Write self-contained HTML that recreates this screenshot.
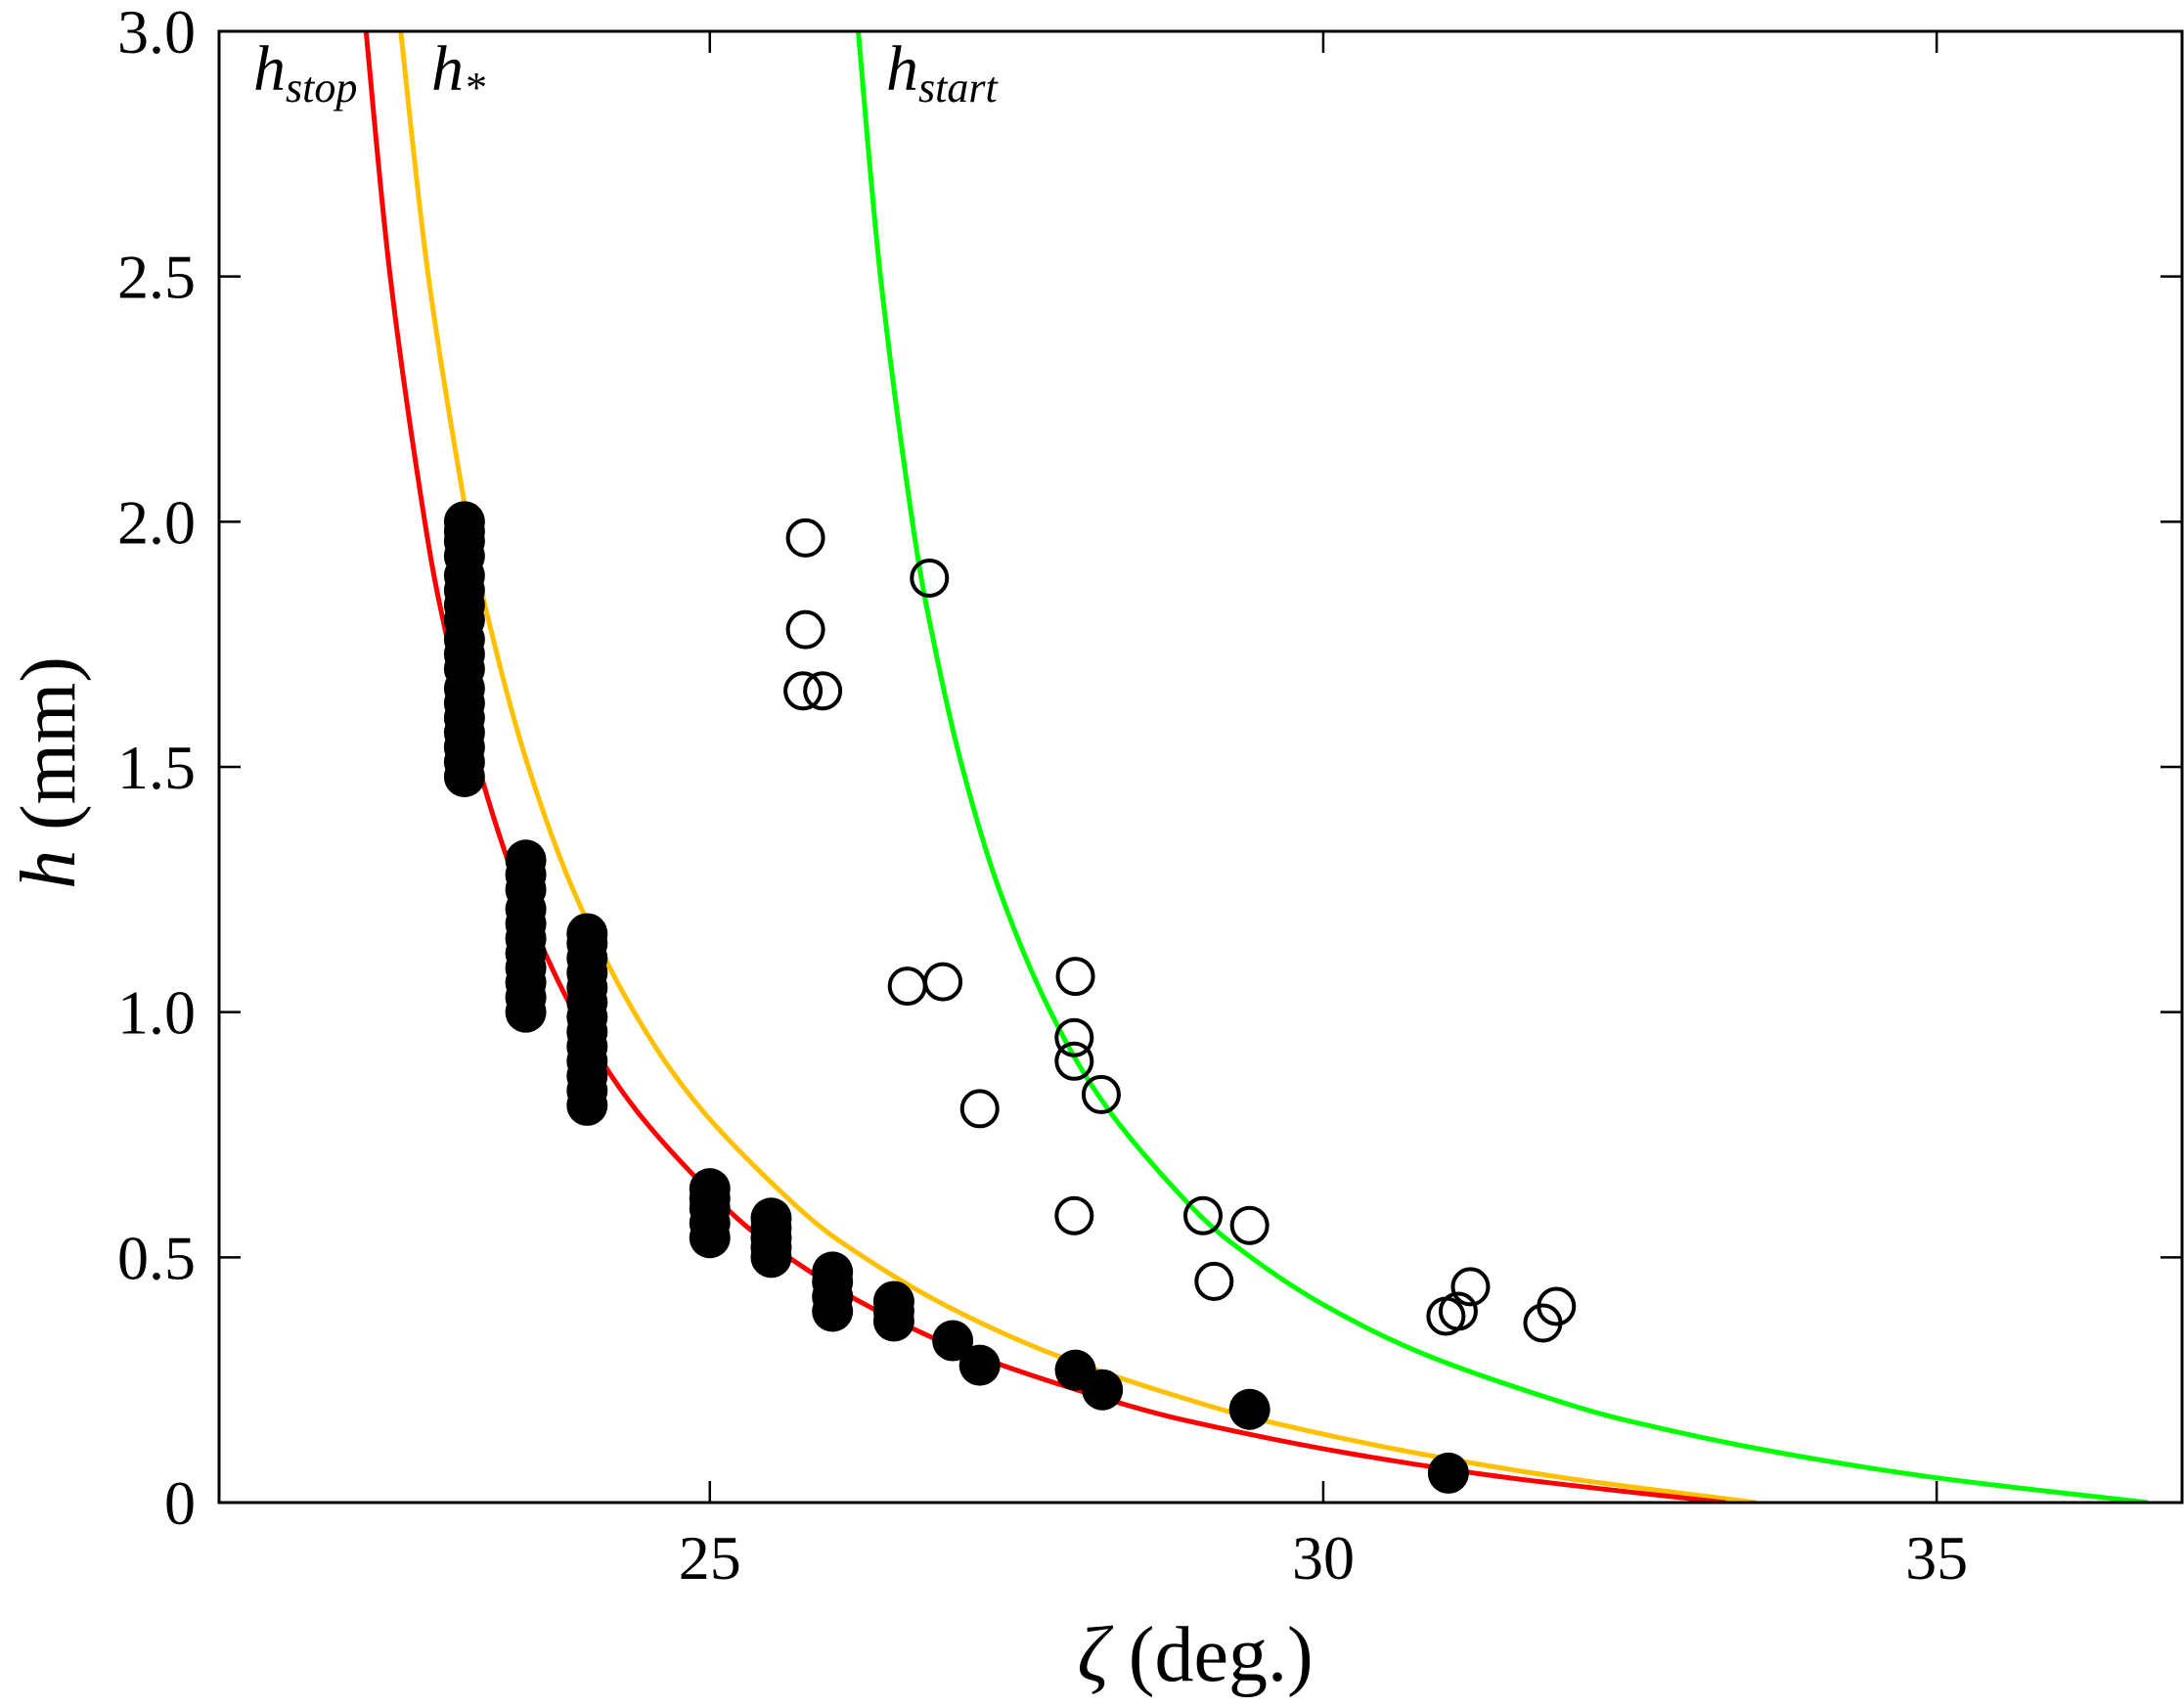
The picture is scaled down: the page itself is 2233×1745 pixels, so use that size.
<!DOCTYPE html>
<html><head><meta charset="utf-8"><style>
html,body{margin:0;padding:0;background:#fff;}
svg text{font-family:"Liberation Serif",serif;}
</style></head><body>
<svg id="chart" width="2233" height="1740" xmlns="http://www.w3.org/2000/svg">
<g id="curves"></g>
<g id="points"></g>
<g id="axes"></g>
<text x="259" y="92" font-size="66" font-style="italic">h<tspan font-size="44" dy="12">stop</tspan></text>
<text x="441" y="92" font-size="66" font-style="italic">h<tspan font-size="44" dy="12">*</tspan></text>
<text x="906" y="92" font-size="66" font-style="italic">h<tspan font-size="44" dy="12">start</tspan></text>
<text x="1222" y="1718" font-size="80" text-anchor="middle"><tspan font-style="italic">ζ</tspan> (deg.)</text>
<text transform="translate(76,790) rotate(-90)" font-size="80" text-anchor="middle"><tspan font-style="italic">h</tspan> (mm)</text>
</svg>
<script>
const xTicks=[25,30,35];
const yTicks=[0,0.5,1.0,1.5,2.0,2.5,3.0];
const yTickLabels=["0","0.5","1.0","1.5","2.0","2.5","3.0"];
const curveH=[3,2.5,2,1.75,1.5,1.25,1,0.8,0.6,0.5,0.4,0.3,0.2,0.15,0.1,0.05,0];
const stopX=[22.198,22.395,22.677,22.869,23.115,23.441,23.892,24.40,25.136,25.643,26.295,27.164,28.383,29.197,30.216,31.528,33.28];
const starX=[22.481,22.706,23.027,23.245,23.521,23.885,24.383,24.937,25.725,26.258,26.937,27.823,29.031,29.813,30.779,31.976,33.53];
const startX=[26.210,26.391,26.651,26.829,27.057,27.359,27.778,28.252,28.938,29.412,30.026,30.847,32.003,32.776,33.754,35.014,36.72];
const filledX=[23,23,23,23,23,23,23,23,23,23,23,23,23,23,23,23,23,23,23.5,23.5,23.5,23.5,23.5,23.5,23.5,23.5,23.5,23.5,23.5,24,24,24,24,24,24,24,24,24,24,24,24,24,25,25,25,25,25,25.5,25.5,25.5,25.5,25.5,26,26,26,26,26.5,26.5,26.5,26.98,27.2,27.98,28.2,29.4,31.02];
const filledH=[1.48,1.51,1.54,1.57,1.6,1.63,1.66,1.7,1.73,1.76,1.8,1.83,1.86,1.89,1.93,1.96,1.98,2.0,1.0,1.03,1.06,1.09,1.12,1.15,1.18,1.21,1.25,1.28,1.31,0.81,0.84,0.87,0.9,0.93,0.96,0.99,1.02,1.05,1.08,1.11,1.14,1.16,0.54,0.57,0.6,0.62,0.64,0.5,0.52,0.54,0.56,0.58,0.39,0.42,0.45,0.47,0.37,0.39,0.41,0.33,0.28,0.27,0.23,0.19,0.06];
const openX=[25.78,26.79,25.78,25.76,25.92,26.61,26.9,27.2,27.98,27.97,27.97,28.19,27.97,29.02,29.4,29.11,31.0,31.1,31.2,31.79,31.9];
const openH=[1.967,1.885,1.78,1.655,1.655,1.053,1.062,0.803,1.073,0.948,0.90,0.832,0.585,0.585,0.565,0.451,0.38,0.39,0.44,0.366,0.40];

const L=224,R=2231,T=32,B=1536,X0=21,X1=37,Y0=0,Y1=3;
const sx=v=>L+(v-X0)/(X1-X0)*(R-L);
const sy=v=>B-(v-Y0)/(Y1-Y0)*(B-T);
const NS="http://www.w3.org/2000/svg";
function mk(tag,parent){const e=document.createElementNS(NS,tag);parent.appendChild(e);return e;}
const cg=document.getElementById('curves'),pg=document.getElementById('points'),ag=document.getElementById('axes');
const clip=mk('clipPath',document.getElementById('chart'));clip.setAttribute('id','clip');
const cr=mk('rect',clip);cr.setAttribute('x',L);cr.setAttribute('y',T);cr.setAttribute('width',R-L);cr.setAttribute('height',B-T);
cg.setAttribute('clip-path','url(#clip)');
function smooth(xs,ys){
  const p=xs.map((x,i)=>[sx(x),sy(ys[i])]);
  let d='M'+p[0][0]+','+p[0][1];
  for(let i=0;i<p.length-1;i++){
    const p0=p[i-1]||p[i],p1=p[i],p2=p[i+1],p3=p[i+2]||p[i+1];
    const c1=[p1[0]+(p2[0]-p0[0])/6,p1[1]+(p2[1]-p0[1])/6];
    const c2=[p2[0]-(p3[0]-p1[0])/6,p2[1]-(p3[1]-p1[1])/6];
    d+='C'+c1[0]+','+c1[1]+' '+c2[0]+','+c2[1]+' '+p2[0]+','+p2[1];
  }
  return d;
}
[[startX,'#00ff00','curve-hstart'],[starX,'#ffc000','curve-hstar'],[stopX,'#ff0000','curve-hstop']].forEach(([xs,c,n])=>{
  const p=mk('path',cg);
  
  
  p.setAttribute('d',smooth(xs,curveH));p.setAttribute('fill','none');p.setAttribute('stroke',c);p.setAttribute('stroke-width','5');
});
filledX.forEach((x,i)=>{
  const c=mk('circle',pg);
  
  
  c.setAttribute('cx',sx(x));c.setAttribute('cy',sy(filledH[i]));c.setAttribute('r','21');c.setAttribute('fill','#000');
});
openX.forEach((x,i)=>{
  const c=mk('circle',pg);
  
  
  c.setAttribute('cx',sx(x));c.setAttribute('cy',sy(openH[i]));c.setAttribute('r','18');c.setAttribute('fill','none');c.setAttribute('stroke','#000');c.setAttribute('stroke-width','4');
});
const fr=mk('rect',ag);


fr.setAttribute('x',L);fr.setAttribute('y',T);fr.setAttribute('width',R-L);fr.setAttribute('height',B-T);fr.setAttribute('fill','none');fr.setAttribute('stroke','#000');fr.setAttribute('stroke-width','3');
xTicks.forEach(v=>{
  [[B,B-22],[T,T+22]].forEach(([a,b])=>{const l=mk('line',ag);
    
    
    l.setAttribute('x1',sx(v));l.setAttribute('x2',sx(v));l.setAttribute('y1',a);l.setAttribute('y2',b);l.setAttribute('stroke','#000');l.setAttribute('stroke-width','2.5');});
  const t=mk('text',ag);
  
  
  t.setAttribute('x',sx(v));t.setAttribute('y',1614);t.setAttribute('font-size','64');t.setAttribute('text-anchor','middle');t.textContent=String(v);
});
yTicks.forEach((v,i)=>{
  [[L,L+22],[R,R-22]].forEach(([a,b])=>{const l=mk('line',ag);
    
    
    l.setAttribute('x1',a);l.setAttribute('x2',b);l.setAttribute('y1',sy(v));l.setAttribute('y2',sy(v));l.setAttribute('stroke','#000');l.setAttribute('stroke-width','2.5');});
  const t=mk('text',ag);
  
  
  t.setAttribute('x',200);t.setAttribute('y',sy(v)+22);t.setAttribute('font-size','64');t.setAttribute('text-anchor','end');t.textContent=yTickLabels[i];
});
</script>
</body></html>
